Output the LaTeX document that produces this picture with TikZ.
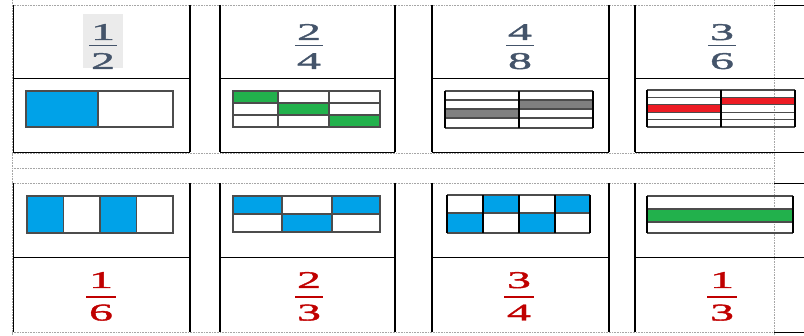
\documentclass[tikz,border=0pt]{standalone}
\usepackage{fontspec}
\usepackage{tikz}
\newfontfamily\fracfont[FakeStretch=2.0, FakeBold=1.6]{Liberation Serif}
\definecolor{slate}{HTML}{44546A}
\definecolor{darkred}{HTML}{C00000}
\definecolor{bluefill}{HTML}{00A2E8}
\definecolor{greenfill}{HTML}{22B14C}
\definecolor{redfill}{HTML}{ED1C24}
\definecolor{grayfill}{HTML}{808080}
\definecolor{marker}{HTML}{EBEBEB}

\begin{document}
\begin{tikzpicture}[x=1pt, y=-1pt,
  cellrule/.style={line width=0.9pt},
  heavy/.style={line width=2.6pt},
  gridline/.style={gray!70, dash pattern=on 0.8pt off 0.8pt, line width=0.7pt},
  piece/.style={draw=black!70, line width=1.2pt},
  heavypiece/.style={black, line width=2.2pt},
  upnum/.style={font=\fracfont\fontsize{24}{24}\selectfont, text=slate, anchor=base, inner sep=0pt},
  lownum/.style={upnum, text=darkred},
  upbar/.style={slate, line width=1.8pt},
  lowbar/.style={darkred, line width=1.8pt}]
  \useasboundingbox (0,0) rectangle (804,336);

  % table grid (dotted)
  \draw[gridline] (12,0) -- (12,336) (774,0) -- (774,336);
  \foreach \yy in {5,153,168,183,332}
    \draw[gridline] (12,\yy) -- (774,\yy);
  \foreach \yy in {5,183,332}
    \draw[cellrule] (774,\yy) -- (804,\yy);

  % cell frames
  \foreach \top/\mid/\bot in {5/78/152, 183/257/332} {
    \draw[cellrule] (13,\top) -- (13,\bot);
    \foreach \xa/\xb in {13/190, 220/395, 432/609, 635/804}
      \draw[cellrule] (\xa,\mid) -- (\xb,\mid);
    \foreach \xx in {190,220,395,432,609,635}
      \draw[heavy] (\xx,\top) -- (\xx,\bot);
  }
  \foreach \xa/\xb in {13/190, 220/395, 432/609, 635/804}
    \draw[cellrule] (\xa,152) -- (\xb,152);

  % top row: fractions
  \fill[marker] (83,14) rectangle (123,68);
  \node[upnum] (n1) at (103,40) {1};
  \node[upnum] (d1) at (103,69) {2};
  \draw[upbar] (89,45.5) -- (117,45.5);
  \node[upnum] (n2) at (309,40) {2};
  \node[upnum] (d2) at (309,69) {4};
  \draw[upbar] (295,45.5) -- (323,45.5);
  \node[upnum] (n3) at (520,40) {4};
  \node[upnum] (d3) at (520,69) {8};
  \draw[upbar] (506,45.5) -- (534,45.5);
  \node[upnum] (n4) at (722,40) {3};
  \node[upnum] (d4) at (722,69) {6};
  \draw[upbar] (708,45.5) -- (736,45.5);

  % top row: pictures
  \fill[bluefill] (26,91) rectangle (98,127);
  \draw[piece] (26,91) rectangle (173,127) (98,91) -- (98,127);

  \fill[greenfill] (233,91) rectangle (278,103) (278,103) rectangle (329,115)
    (329,115) rectangle (380,127);
  \draw[piece] (233,91) rectangle (380,127) (278,91) -- (278,127) (329,91) -- (329,127)
    (233,103) -- (380,103) (233,115) -- (380,115);

  \fill[grayfill] (519,100) rectangle (593,109) (445,109) rectangle (519,118);
  \foreach \yy in {91,100,109,118,128}
    \draw[piece] (445,\yy) -- (593,\yy);
  \foreach \xx in {445,519,593}
    \draw[heavypiece] (\xx,91) -- (\xx,128);

  \fill[redfill] (721,97.4) rectangle (795,104.8) (647,104.8) rectangle (721,112.2);
  \foreach \yy in {90,97.4,104.8,112.2,119.6,127}
    \draw[piece] (647,\yy) -- (795,\yy);
  \foreach \xx in {647,721,795}
    \draw[heavypiece] (\xx,90) -- (\xx,127);

  % bottom row: pictures
  \fill[bluefill] (27,196) rectangle (63.5,233) (100,196) rectangle (136.5,233);
  \draw[piece] (27,196) rectangle (173,233) (63.5,196) -- (63.5,233)
    (100,196) -- (100,233) (136.5,196) -- (136.5,233);

  \fill[bluefill] (233,196) rectangle (282,214) (282,214) rectangle (332,232)
    (332,196) rectangle (380,214);
  \draw[piece] (233,196) rectangle (380,232) (282,196) -- (282,232) (332,196) -- (332,232)
    (233,214) -- (380,214);

  \fill[bluefill] (447,213) rectangle (483,233) (483,195) rectangle (519,213)
    (519,213) rectangle (555,233) (555,195) rectangle (590,213);
  \foreach \yy in {195,213,233}
    \draw[piece] (447,\yy) -- (590,\yy);
  \foreach \xx in {447,483,519,555,590}
    \draw[heavypiece] (\xx,195) -- (\xx,233);

  \fill[greenfill] (647,209) rectangle (793,222);
  \foreach \yy in {196,209,222,233}
    \draw[piece] (647,\yy) -- (793,\yy);
  \foreach \xx in {647,793}
    \draw[heavypiece] (\xx,196) -- (\xx,233);

  % bottom row: fractions
  \node[lownum] (bn1) at (101,288) {1};
  \node[lownum] (bd1) at (101,320.5) {6};
  \draw[lowbar] (86,297) -- (116,297);
  \node[lownum] (bn2) at (309,288) {2};
  \node[lownum] (bd2) at (309,320.5) {3};
  \draw[lowbar] (295,297) -- (323,297);
  \node[lownum] (bn3) at (519,288) {3};
  \node[lownum] (bd3) at (519,320.5) {4};
  \draw[lowbar] (504,297) -- (534,297);
  \node[lownum] (bn4) at (722,288) {1};
  \node[lownum] (bd4) at (722,320.5) {3};
  \draw[lowbar] (707,297) -- (737,297);
\end{tikzpicture}
\end{document}
